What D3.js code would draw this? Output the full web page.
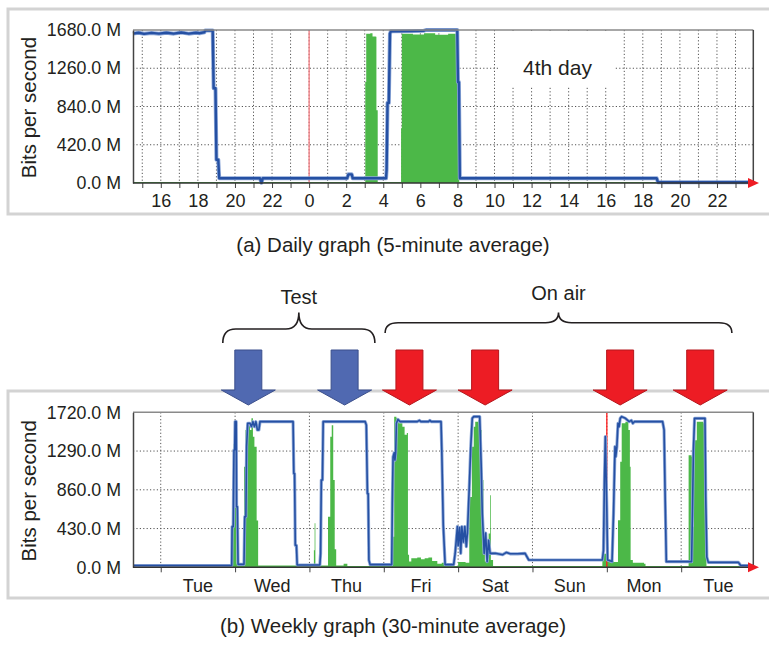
<!DOCTYPE html>
<html lang="en">
<head>
  <meta charset="UTF-8">
  <title>Daily and weekly traffic graphs</title>
  <script src="https://d3js.org/d3.v7.min.js"></script>
  <style>
    body { margin: 0; background: #fff; }
    svg { display: block; font-family: "Liberation Sans", Arial, Helvetica, sans-serif; }
    text { fill: #231f20; }
  </style>
</head>
<body>
  <svg width="769" height="645"></svg>

  <script>
    // ---- data ----
    // daily graph: [hour relative to midnight, Mbit/s]
    const dailyTicks = [0, 420, 840, 1260, 1680];
    const dailyOut = [
      [-9.5, 1640], [-9.2, 1650], [-8.9, 1638], [-8.5, 1648], [-8.1, 1640], [-7.7, 1650],
      [-7.3, 1640], [-6.9, 1652], [-6.5, 1640], [-6.1, 1650], [-5.9, 1645], [-5.65, 1655],
      [-5.6, 1675], [-5.2, 1675], [-5.15, 1040], [-5.05, 1040], [-5.0, 256], [-4.9, 256],
      [-4.85, 52], [-2.65, 52], [-2.57, 2], [-2.5, 52], [2.05, 52], [2.12, 95], [2.3, 95],
      [2.35, 52], [4.15, 52], [4.18, 146], [4.23, 880], [4.3, 880], [4.36, 1640],
      [4.41, 1665], [5.5, 1668], [6.2, 1672], [6.3, 1680], [7.99, 1680], [8.03, 1108],
      [8.08, 1108], [8.13, 52], [18.75, 52], [18.82, 8], [24, 8]
    ];
    const dailyIn = [
      [-9.5, 12], [3.0, 12], [3.03, 1109], [3.08, 1640], [3.3, 1645], [3.42, 1610],
      [3.6, 1605], [3.63, 800], [3.68, 800], [3.7, 12], [4.93, 12], [4.96, 600],
      [5.0, 1640], [5.6, 1630], [6.2, 1645], [6.8, 1628], [7.5, 1640], [7.99, 1632],
      [8.05, 345], [8.1, 12], [24, 12]
    ];

    // weekly graph: [days since Tue 00:00, Mbit/s]
    const weeklyTicks = [0, 430, 860, 1290, 1720];
    const weekDays = ["Tue", "Wed", "Thu", "Fri", "Sat", "Sun", "Mon", "Tue"];
    const weeklyOut = [
      [-0.37, 20], [0.955, 20], [0.96, 451], [0.975, 451], [0.985, 1302], [0.995, 1302],
      [1.0, 1616], [1.015, 1616], [1.02, 673], [1.03, 673], [1.04, 33], [1.12, 33],
      [1.13, 562], [1.145, 562], [1.155, 1339], [1.17, 1598], [1.2, 1598], [1.22, 1561],
      [1.24, 1616], [1.26, 1561], [1.28, 1616], [1.3, 1524], [1.32, 1524], [1.335, 1616],
      [1.78, 1616], [1.79, 1040], [1.8, 1040], [1.81, 244], [1.825, 244], [1.835, 25],
      [2.14, 25], [2.15, 155], [2.16, 969], [2.175, 969], [2.185, 1616], [2.75, 1616],
      [2.765, 1580], [2.78, 818], [2.79, 818], [2.8, 80], [2.816, 30], [3.107, 30],
      [3.115, 707], [3.125, 1224], [3.14, 1270], [3.15, 1190], [3.16, 1270], [3.17, 1598],
      [3.19, 1640], [3.22, 1616], [3.45, 1616], [3.48, 1630], [3.5, 1616], [3.6, 1616],
      [3.62, 1630], [3.64, 1616], [3.77, 1616], [3.78, 1302], [3.8, 466], [3.825, 30],
      [3.94, 30], [3.96, 155], [3.99, 451], [4.0, 240], [4.02, 440], [4.035, 155],
      [4.05, 451], [4.07, 280], [4.09, 451], [4.11, 229], [4.125, 380], [4.15, 891],
      [4.17, 1339], [4.19, 1653], [4.21, 1672], [4.29, 1672], [4.31, 1135], [4.325, 596],
      [4.35, 155], [4.37, 380], [4.39, 63], [4.41, 300], [4.43, 155], [4.5, 155],
      [4.6, 140], [4.65, 165], [4.7, 150], [4.8, 150], [4.9, 155], [4.95, 81], [5.94, 81],
      [5.955, 189], [5.968, 969], [5.98, 1450], [6.0, 633], [6.01, 81], [6.07, 63],
      [6.09, 596], [6.11, 1339], [6.12, 1228], [6.135, 1339], [6.15, 1598], [6.165, 1561],
      [6.18, 1653], [6.2, 1672], [6.25, 1653], [6.3, 1616], [6.33, 1630], [6.35, 1598],
      [6.37, 1616], [6.75, 1616], [6.77, 1524], [6.785, 744], [6.8, 63], [7.14, 63],
      [7.15, 522], [7.165, 1302], [7.18, 1653], [7.32, 1653], [7.33, 781], [7.345, 115],
      [7.365, 55], [7.77, 55], [7.8, 20], [7.97, 20]
    ];
    const weeklyIn = [
      [-0.37, 10], [0.955, 10], [0.965, 673], [0.98, 1370], [0.99, 1302], [1.0, 1339],
      [1.01, 710], [1.02, 40], [1.1, 20], [1.12, 1117], [1.14, 1524], [1.16, 1561],
      [1.18, 1598], [1.2, 1524], [1.22, 1653], [1.24, 1450], [1.26, 1339], [1.29, 520],
      [1.31, 20], [2.05, 20], [2.06, 190], [2.07, 490], [2.08, 20], [2.24, 20],
      [2.25, 562], [2.28, 1450], [2.3, 1576], [2.32, 969], [2.34, 200], [2.36, 20],
      [2.45, 20], [2.46, 40], [2.5, 40], [2.51, 15], [3.105, 15], [3.11, 340],
      [3.125, 340], [3.14, 1672], [3.17, 1653], [3.2, 1598], [3.25, 1561], [3.28, 1470],
      [3.31, 1490], [3.325, 140], [3.34, 63], [3.37, 100], [3.45, 110], [3.5, 90],
      [3.55, 100], [3.6, 110], [3.65, 70], [3.72, 40], [3.78, 50], [3.83, 15],
      [3.98, 15], [4.0, 60], [4.1, 50], [4.15, 781], [4.185, 1339], [4.21, 1561],
      [4.23, 1616], [4.27, 1635], [4.297, 1524], [4.32, 969], [4.34, 374], [4.36, 63],
      [4.38, 80], [4.41, 374], [4.43, 800], [4.44, 80], [4.47, 15], [5.93, 15],
      [5.94, 150], [5.99, 150], [6.0, 630], [6.01, 70], [6.07, 70], [6.09, 60],
      [6.15, 522], [6.18, 1170], [6.2, 1598], [6.25, 1616], [6.29, 1524], [6.31, 1117],
      [6.32, 81], [6.35, 50], [6.5, 40], [6.52, 15], [7.09, 15], [7.1, 1243],
      [7.14, 1228], [7.15, 451], [7.17, 1410], [7.21, 1616], [7.3, 1598], [7.32, 596],
      [7.34, 15], [7.97, 15]
    ];

    // annotation arrows and braces (in weekly days)
    const testArrows = [1.178, 2.473];
    const onAirArrows = [3.345, 4.363, 6.179, 7.256];
    const braces = [
      { label: "Test", from: 0.835, to: 2.88 },
      { label: "On air", from: 3.018, to: 7.682 }
    ];

    const svg = d3.select("svg");
    const ink = "#231f20";
    const blue = "#2550a3", blueHalo = "#8fa9d8", green = "#4cb848";

    function panel(opt) {
      const g = svg.append("g");
      // outer light frame (runs off the right edge)
      g.append("rect")
        .attr("x", 8).attr("y", opt.boxTop)
        .attr("width", 790).attr("height", opt.boxBottom - opt.boxTop)
        .attr("fill", "none").attr("stroke", "#d3d3d3").attr("stroke-width", 3);

      const x = d3.scaleLinear().domain(opt.xDomain).range([133, 753.3]);
      const y = d3.scaleLinear().domain([0, opt.yMax]).range([opt.plotBottom, opt.plotTop]);

      // grid
      g.selectAll(".vgrid").data(opt.gridX).enter().append("line")
        .attr("x1", d => x(d)).attr("x2", d => x(d))
        .attr("y1", opt.plotTop).attr("y2", opt.plotBottom)
        .attr("stroke", "#555").attr("stroke-width", 1).attr("stroke-dasharray", "1.2,2.2");
      g.selectAll(".hgrid").data(opt.yTicks.slice(1, -1)).enter().append("line")
        .attr("x1", 133).attr("x2", 753.3)
        .attr("y1", d => y(d)).attr("y2", d => y(d))
        .attr("stroke", "#555").attr("stroke-width", 1).attr("stroke-dasharray", "1.2,2.2");

      // inbound traffic as filled bars (step area)
      g.append("path").datum(opt.inData)
        .attr("fill", green)
        .attr("d", d3.area().curve(d3.curveStepAfter)
          .x(d => x(d[0])).y0(y(0)).y1(d => y(d[1])));

      // red "now" marker
      g.append("line")
        .attr("x1", x(opt.marker)).attr("x2", x(opt.marker))
        .attr("y1", opt.plotTop).attr("y2", opt.plotBottom)
        .attr("stroke", opt.markerColor).attr("stroke-width", 1.3);

      // outbound traffic line
      const line = d3.line().x(d => x(d[0])).y(d => y(d[1]));
      g.append("path").datum(opt.outData)
        .attr("fill", "none").attr("stroke", blueHalo).attr("stroke-width", opt.lineW + 1.6)
        .attr("stroke-linejoin", "round").attr("d", line);
      g.append("path").datum(opt.outData)
        .attr("fill", "none").attr("stroke", blue).attr("stroke-width", opt.lineW)
        .attr("stroke-linejoin", "round").attr("d", line);

      // plot frame
      g.append("line").attr("x1", 133).attr("x2", 753.3)
        .attr("y1", opt.plotTop).attr("y2", opt.plotTop)
        .attr("stroke", "#8a8a8a").attr("stroke-width", 1.5);
      g.append("line").attr("x1", 753.3).attr("x2", 753.3)
        .attr("y1", opt.plotTop).attr("y2", opt.plotBottom)
        .attr("stroke", "#444").attr("stroke-width", 1.5);

      // y axis
      const yAxis = g.append("g").attr("transform", "translate(133,0)")
        .call(d3.axisLeft(y).tickValues(opt.yTicks).tickSize(0).tickPadding(12)
          .tickFormat(d => d.toFixed(1) + " M"));
      yAxis.select(".domain").attr("stroke", "#444").attr("stroke-width", 1.5);
      yAxis.selectAll("text").attr("font-size", "17.8px").attr("fill", ink)
        .attr("font-family", "Liberation Sans, Arial, sans-serif");

      // x axis
      const xAxis = g.append("g").attr("transform", `translate(0,${opt.plotBottom})`)
        .call(d3.axisBottom(x).tickValues(opt.tickX).tickSize(5).tickPadding(opt.xPad)
          .tickFormat(opt.tickFmt));
      xAxis.select(".domain").remove();
      xAxis.selectAll(".tick line").attr("stroke", "#444");
      xAxis.selectAll("text").attr("font-size", "18px").attr("fill", ink)
        .attr("font-family", "Liberation Sans, Arial, sans-serif");
      if (opt.labelX) {
        g.selectAll(".daylab").data(opt.labelX).enter().append("text")
          .attr("x", d => x(d[0])).attr("y", opt.plotBottom + 24.4)
          .attr("text-anchor", "middle").attr("font-size", "18px")
          .text(d => d[1]);
      }
      g.append("line").attr("x1", 133).attr("x2", 750)
        .attr("y1", opt.plotBottom).attr("y2", opt.plotBottom)
        .attr("stroke", "#333").attr("stroke-width", 1.5);
      g.append("path")
        .attr("d", `M748,${opt.plotBottom - 5}L759,${opt.plotBottom}L748,${opt.plotBottom + 5}Z`)
        .attr("fill", "#ee1c24");

      // y title
      g.append("text")
        .attr("transform", `translate(36,${(opt.plotTop + opt.plotBottom) / 2 + 1}) rotate(-90)`)
        .attr("text-anchor", "middle").attr("font-size", "20.5px")
        .text("Bits per second");

      // caption
      svg.append("text").attr("x", 393).attr("y", opt.captionY)
        .attr("text-anchor", "middle").attr("font-size", "20.5px")
        .text(opt.caption);
      return { x, y };
    }

    // ---- (a) daily graph ----
    const hours = d3.range(-9, 24);
    panel({
      boxTop: 9, boxBottom: 214,
      plotTop: 30, plotBottom: 183,
      xDomain: [-9.5, 23.96], yMax: 1680, yTicks: dailyTicks,
      gridX: hours, tickX: hours, xPad: 6,
      tickFmt: d => (d % 2 === 0 ? String((d + 24) % 24) : ""),
      inData: dailyIn, outData: dailyOut, lineW: 2.4,
      marker: 0, markerColor: "#f27b80",
      caption: "(a) Daily graph (5-minute average)", captionY: 251.7
    });
    // "4th day" label on a white patch
    svg.append("rect").attr("x", 498).attr("y", 31).attr("width", 117).attr("height", 56)
      .attr("fill", "#fff");
    svg.append("text").attr("x", 557.5).attr("y", 75).attr("text-anchor", "middle")
      .attr("font-size", "21px").text("4th day");

    // ---- (b) weekly graph ----
    const days = d3.range(0, 8);
    const wk = panel({
      boxTop: 391, boxBottom: 598,
      plotTop: 412.3, plotBottom: 567.3,
      xDomain: [-0.373, 7.97], yMax: 1720, yTicks: weeklyTicks,
      gridX: days, tickX: days, xPad: 6, tickFmt: () => "",
      labelX: weekDays.map((n, i) => [i + 0.5, n]),
      inData: weeklyIn, outData: weeklyOut, lineW: 1.6,
      marker: 6, markerColor: "#ff1a1a",
      caption: "(b) Weekly graph (30-minute average)", captionY: 633
    });

    // braces with labels
    braces.forEach(b => {
      const x0 = wk.x(b.from), x1 = wk.x(b.to), xc = (x0 + x1) / 2;
      const yEnd = b.label === "Test" ? 343 : 333;
      const yH = b.label === "Test" ? 329 : 322.7;
      const yTip = 312.5, r = 13;
      const p = d3.path();
      p.moveTo(x0, yEnd);
      p.quadraticCurveTo(x0, yH, x0 + r, yH);
      p.lineTo(xc - r, yH);
      p.quadraticCurveTo(xc, yH, xc, yTip);
      p.quadraticCurveTo(xc, yH, xc + r, yH);
      p.lineTo(x1 - r, yH);
      p.quadraticCurveTo(x1, yH, x1, yEnd);
      svg.append("path").attr("d", p.toString())
        .attr("fill", "none").attr("stroke", ink).attr("stroke-width", 1.6);
      svg.append("text").attr("x", xc).attr("y", b.label === "Test" ? 304 : 300)
        .attr("text-anchor", "middle").attr("font-size", "20px").text(b.label);
    });

    // big down arrows
    function arrow(d, fill, stroke) {
      const cx = wk.x(d);
      const pts = [
        [cx - 13.5, 350], [cx + 13.5, 350], [cx + 13.5, 390], [cx + 27, 390],
        [cx, 405], [cx - 27, 390], [cx - 13.5, 390]
      ];
      svg.append("path").attr("d", "M" + pts.join("L") + "Z")
        .attr("fill", fill).attr("stroke", stroke).attr("stroke-width", 1);
    }
    testArrows.forEach(d => arrow(d, "#5069b1", "#3b4f8c"));
    onAirArrows.forEach(d => arrow(d, "#ed1c24", "#b5161c"));
  </script>
</body>
</html>
